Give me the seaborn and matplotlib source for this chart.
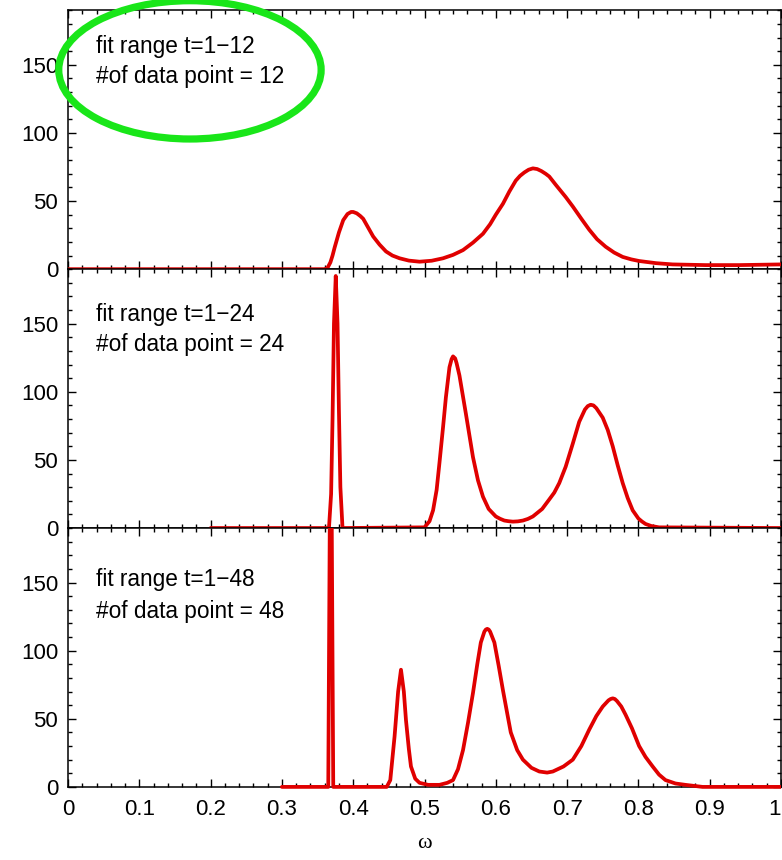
import numpy as np
import pandas as pd
import seaborn as sns
import matplotlib.pyplot as plt
from matplotlib import font_manager
from matplotlib.patches import Ellipse, Rectangle

# spectral function, one pair of lists per fit range
omega_12 = [0.0, 0.360, 0.364, 0.368, 0.371, 0.374, 0.380, 0.386, 0.392, 0.397, 0.400,
            0.405, 0.410, 0.414, 0.421, 0.428, 0.437, 0.446, 0.455, 0.465, 0.478, 0.493,
            0.510, 0.526, 0.540, 0.554, 0.568, 0.582, 0.592, 0.600, 0.610, 0.619, 0.628,
            0.634, 0.640, 0.646, 0.652, 0.658, 0.664, 0.670, 0.675, 0.684, 0.698, 0.708,
            0.720, 0.731, 0.742, 0.754, 0.766, 0.778, 0.790, 0.801, 0.825, 0.848, 0.894,
            0.941, 1.0]
spec_12 = [0, 0, 1, 5, 10, 16, 27, 36, 40.5, 42, 42,
           41, 39, 37, 30.5, 24, 18, 13, 10, 8, 6.3, 5.5,
           6.2, 8, 10.5, 14, 19.5, 26, 33, 40, 48, 57, 65,
           68.5, 71, 73, 74, 73.5, 72, 70, 68, 62, 53, 46,
           37, 29, 22, 16.5, 12.2, 9, 7.2, 6, 4.4, 3.5, 3,
           3, 3.5]

omega_24 = [0.200, 0.366, 0.369, 0.371, 0.373, 0.3755, 0.378, 0.380, 0.382, 0.385,
            0.500, 0.507, 0.512, 0.517, 0.521, 0.526, 0.530, 0.535, 0.538, 0.540, 0.543,
            0.545, 0.549, 0.558, 0.568, 0.575, 0.582, 0.590, 0.600, 0.606, 0.612, 0.618,
            0.624, 0.631, 0.638, 0.645, 0.652, 0.665, 0.675, 0.682, 0.689, 0.698, 0.708,
            0.717, 0.725, 0.729, 0.733, 0.737, 0.741, 0.750, 0.757, 0.764, 0.771, 0.778,
            0.785, 0.792, 0.800, 0.805, 0.810, 0.818, 0.829, 1.0]
spec_24 = [0, 0, 25, 80, 150, 185, 150, 85, 30, 0,
           0.5, 5, 13, 28, 48, 74, 96, 118, 124, 126, 124.5,
           121, 112, 84, 52, 35, 23, 14, 8.5, 6.8, 5.5, 5,
           4.7, 4.9, 5.5, 6.7, 8.5, 14, 21, 26, 33, 45, 62,
           78, 87, 89.5, 90.5, 90, 88, 81, 72, 60, 46, 33,
           22, 13, 7, 4.8, 3, 1.5, 0.5, 0]

omega_48 = [0.300, 0.365, 0.3685, 0.372, 0.447, 0.452, 0.458, 0.463, 0.467, 0.471, 0.474,
            0.478, 0.481, 0.487, 0.493, 0.505, 0.521, 0.532, 0.540, 0.547, 0.554, 0.561,
            0.568, 0.574, 0.579, 0.584, 0.586, 0.588, 0.590, 0.592, 0.598, 0.604, 0.610,
            0.616, 0.621, 0.630, 0.638, 0.650, 0.661, 0.672, 0.680, 0.695, 0.708, 0.720,
            0.731, 0.741, 0.750, 0.758, 0.761, 0.764, 0.767, 0.770, 0.776, 0.782, 0.791,
            0.801, 0.810, 0.820, 0.829, 0.838, 0.852, 0.866, 0.890, 1.0]
spec_48 = [0, 0, 320, 0, 0, 5, 37, 70, 86, 70, 49,
           28, 15, 6, 3, 1.5, 1.5, 3, 5, 13, 27, 47,
           69, 90, 106, 114, 115.5, 116, 115.5, 114, 106, 89, 71,
           54, 40, 27, 20, 14, 11.3, 10.5, 11.3, 15, 20, 30,
           42, 52, 59, 63.5, 64.5, 65, 64.5, 63, 59, 53, 43,
           30, 22, 15, 9, 5, 2.5, 1.5, 0, 0]

fit_labels = ["fit range t=1\u221212", "fit range t=1\u221224", "fit range t=1\u221248"]
point_labels = ["#of data point = 12", "#of data point = 24", "#of data point = 48"]
label_y1 = [163.5, 157, 152.5]
label_y2 = [141.5, 135, 129]

xticks = [0, 0.1, 0.2, 0.3, 0.4, 0.5, 0.6, 0.7, 0.8, 0.9, 1.0]
xtick_labels = ["0", "0.1", "0.2", "0.3", "0.4", "0.5", "0.6", "0.7", "0.8", "0.9", "1"]
yticks = [0, 50, 100, 150]

# pick a narrow sans if one is installed
names = {f.name for f in font_manager.fontManager.ttflist}
if 'Liberation Sans Narrow' in names:
    main_font = 'Liberation Sans Narrow'
else:
    main_font = 'Liberation Sans'

sns.set_theme(style="ticks")
plt.rcParams['font.family'] = [main_font, 'DejaVu Sans']
plt.rcParams['text.color'] = 'black'
plt.rcParams['axes.labelcolor'] = 'black'
plt.rcParams['xtick.color'] = 'black'
plt.rcParams['ytick.color'] = 'black'
plt.rcParams['axes.edgecolor'] = 'black'

if main_font == 'Liberation Sans Narrow':
    tick_size, note_size = 18, 19
else:
    tick_size, note_size = 16, 16.3

fig, axes = plt.subplots(3, 1, figsize=(7.82, 8.6), dpi=100, sharex=True)
fig.subplots_adjust(left=0.087, right=0.9987, top=0.988, bottom=0.085, hspace=0)

panels = [(omega_12, spec_12), (omega_24, spec_24), (omega_48, spec_48)]
for i, ax in enumerate(axes):
    om, sp = panels[i]
    df = pd.DataFrame({"omega": om, "spec": sp})
    sns.lineplot(data=df, x="omega", y="spec", ax=ax, color="#e00000",
                 linewidth=2.7, estimator=None, sort=False)
    line = ax.lines[-1]
    line.set_zorder(3)
    line.set_solid_joinstyle('round')
    line.set_clip_path(Rectangle((0, -0.02), 1, 1.02, transform=ax.transAxes))

    ax.set_xlim(0, 1)
    ax.set_ylim(0, 190)
    ax.set_xticks(xticks)
    ax.set_xticks(np.arange(0, 1.001, 0.02), minor=True)
    ax.set_yticks(yticks)
    ax.set_yticks(np.arange(0, 191, 10), minor=True)
    ax.set_yticklabels([str(v) for v in yticks])
    ax.tick_params(which='both', direction='in', top=True, right=True,
                   width=1, color='black')
    ax.tick_params(which='major', length=5.5)
    ax.tick_params(which='minor', length=3)
    ax.tick_params(axis='y', labelsize=tick_size, pad=7)
    ax.set_ylabel("")
    ax.set_xlabel("")
    for s in ax.spines.values():
        s.set_linewidth(1.1)
        s.set_color('black')

    ax.text(0.039, label_y1[i], fit_labels[i], fontsize=note_size, va='center')
    ax.text(0.039, label_y2[i], point_labels[i], fontsize=note_size, va='center')

axes[2].set_xticklabels(xtick_labels)
axes[2].tick_params(axis='x', labelsize=tick_size, pad=9)
axes[2].get_xticklabels()[-1].set_horizontalalignment('right')
axes[2].set_xlabel("\u03c9", family=['Liberation Serif', 'DejaVu Serif'],
                   fontsize=16, labelpad=10)

# green circle round the first label
axes[0].add_patch(Ellipse((0.171, 146.3), width=0.368, height=101.5, fill=False,
                          edgecolor='#19e619', linewidth=5.2, clip_on=False, zorder=5))

fig.savefig("out.png", dpi=100)
